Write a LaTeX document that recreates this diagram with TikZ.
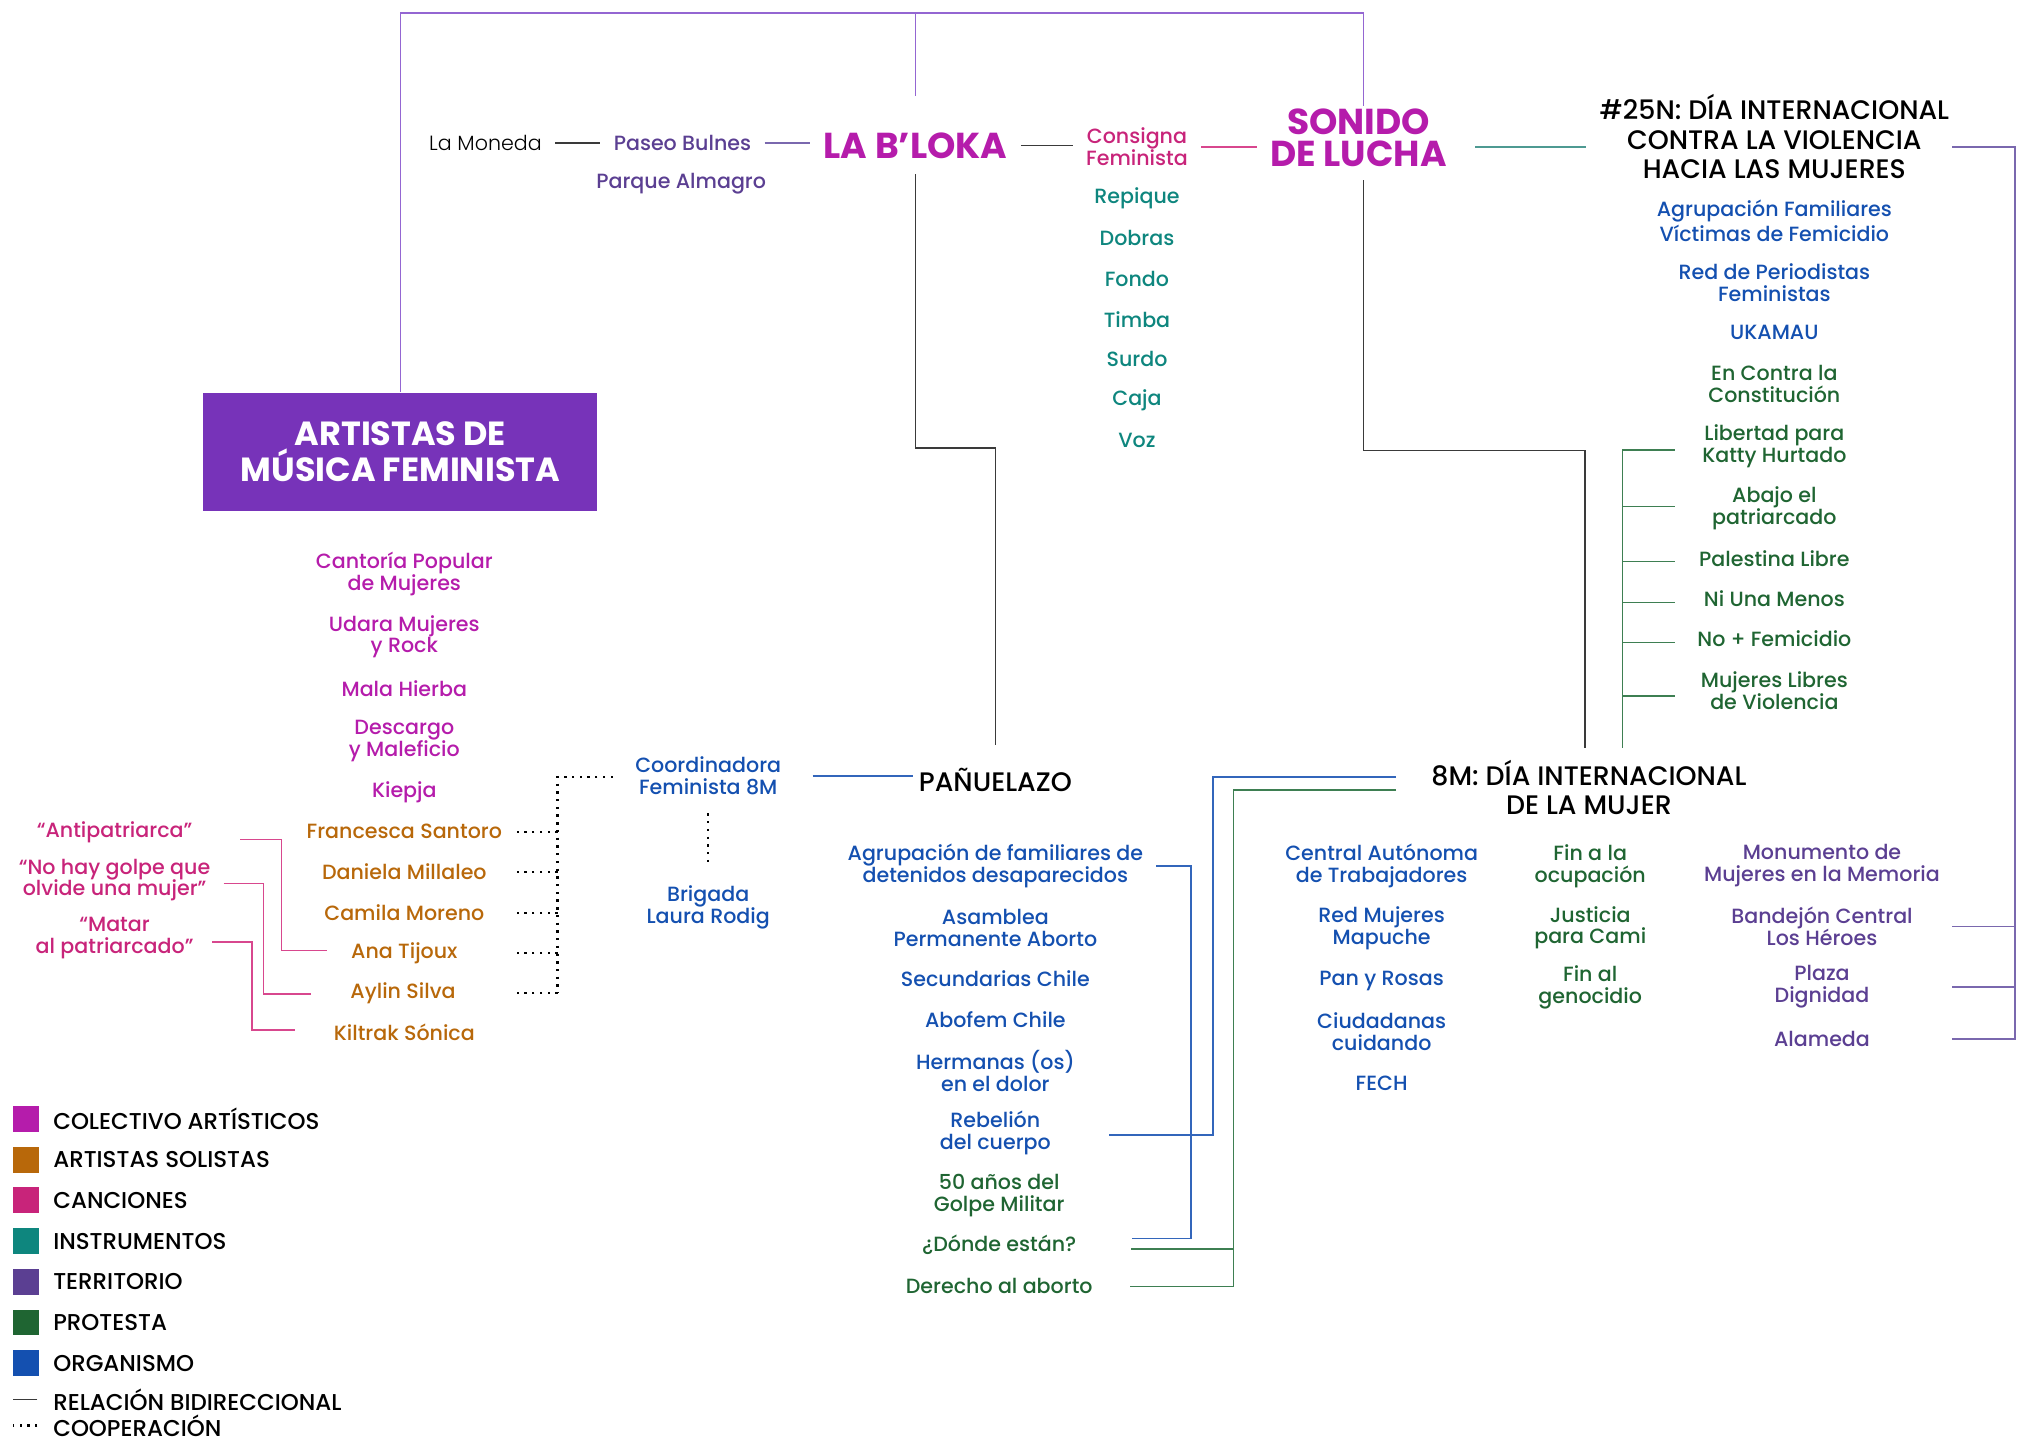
\documentclass[tikz,border=0pt]{standalone}
\usepackage{fontspec}
\setmainfont{Poppins}[UprightFont=* Medium, BoldFont=* Bold]
\newfontfamily\lightfont{Poppins Light}
\usetikzlibrary{calc,positioning}

\definecolor{colect}{HTML}{B51CAB}
\definecolor{solist}{HTML}{B8680A}
\definecolor{canc}{HTML}{C8247A}
\definecolor{instr}{HTML}{0E867E}
\definecolor{terr}{HTML}{5B3F92}
\definecolor{prot}{HTML}{1F6532}
\definecolor{org}{HTML}{1450B0}
\definecolor{boxfill}{HTML}{7733B9}
\definecolor{darkline}{HTML}{3A3A3A}
\definecolor{topline}{HTML}{9466D2}
\definecolor{terrline}{HTML}{7A68AE}
\definecolor{protline}{HTML}{3E7F52}
\definecolor{instrline}{HTML}{4E9A92}
\definecolor{orgline}{HTML}{3366BB}
\definecolor{cancline}{HTML}{D8478E}

\newcommand\itemfont{\fontsize{8}{8.5}\selectfont}
\newcommand\headfont{\fontsize{10.4}{11.5}\selectfont}
\newcommand\bigfont{\fontsize{14}{12.4}\selectfont\bfseries}
\newcommand\legfont{\fontsize{8.9}{9}\selectfont}

\begin{document}
\begin{tikzpicture}[x=0.5pt,y=-0.5pt,font=\itemfont]
  \tikzset{
    item/.style={align=center, inner xsep=5pt, inner ysep=1pt},
    colectivo/.style={item, text=colect},
    solista/.style={item, text=solist},
    cancion/.style={item, text=canc},
    instrumento/.style={item, text=instr},
    territorio/.style={item, text=terr},
    protesta/.style={item, text=prot},
    organismo/.style={item, text=org},
    head/.style={item, font=\headfont, text=black},
    big/.style={item, font=\bigfont, text=colect},
    box/.style={fill=boxfill, text=white, align=center, font=\fontsize{13}{14}\selectfont\bfseries,
      minimum width=153pt, minimum height=46pt, inner sep=0pt},
    legbox/.style={minimum size=10pt, inner sep=0pt},
    legtext/.style={font=\legfont, anchor=west, inner sep=0pt},
    rel/.style={draw=darkline, line width=0.6pt},
    topl/.style={draw=topline, line width=0.6pt},
    terrl/.style={draw=terrline, line width=0.6pt},
    protl/.style={draw=protline, line width=0.6pt},
    instrl/.style={draw=instrline, line width=0.6pt},
    orgl/.style={draw=orgline, line width=0.6pt},
    cancl/.style={draw=cancline, line width=0.6pt},
    coop/.style={draw=black, line width=0.9pt, dash pattern=on 0.9pt off 2.1pt}
  }
  \useasboundingbox (0,0) rectangle (1568,1120);

  % top row
  \node[item, font=\itemfont\lightfont] (moneda) at (377,111) {La Moneda};
  \node[territorio] (bulnes) at (530,111) {Paseo Bulnes};
  \node[territorio] (almagro) at (529,143) {Parque Almagro};
  \node[big] (bloka) at (711,113) {LA B’LOKA};
  \node[cancion] (consigna) at (883,114) {Consigna\\Feminista};
  \node[big] (sonido) at (1055,107) {SONIDO\\DE LUCHA};
  \node[head] (n25) at (1378,106) {\#25N: DÍA INTERNACIONAL\\CONTRA LA VIOLENCIA\\HACIA LAS MUJERES};
  \node[box] (artistas) at (311,351) {ARTISTAS DE\\MÚSICA FEMINISTA};

  % instrumentos
  \node[instrumento] (repique) at (883,154) {Repique};
  \node[instrumento] (dobras) at (883,185) {Dobras};
  \node[instrumento] (fondo) at (883,217) {Fondo};
  \node[instrumento] (timba) at (883,248) {Timba};
  \node[instrumento] (surdo) at (883,279) {Surdo};
  \node[instrumento] (caja) at (883,311) {Caja};
  \node[instrumento] (voz) at (883,342) {Voz};

  % 25N
  \node[organismo] (agrupfem) at (1378,171.5) {Agrupación Familiares\\Víctimas de Femicidio};
  \node[organismo] (periodistas) at (1378,219.5) {Red de Periodistas\\Feministas};
  \node[organismo] (ukamau) at (1378,258) {UKAMAU};
  \node[protesta] (constitucion) at (1378,298) {En Contra la\\Constitución};
  \node[protesta] (libertad) at (1378,346.5) {Libertad para\\Katty Hurtado};
  \node[protesta] (abajo) at (1378,394.5) {Abajo el\\patriarcado};
  \node[protesta] (palestina) at (1378,434) {Palestina Libre};
  \node[protesta] (niuna) at (1378,465) {Ni Una Menos};
  \node[protesta] (nofem) at (1378,496) {No + Femicidio};
  \node[protesta] (mujlib) at (1378,536.5) {Mujeres Libres\\de Violencia};

  % artistas
  \node[colectivo] (cantoria) at (314,445.5) {Cantoría Popular\\de Mujeres};
  \node[colectivo] (udara) at (314,494.5) {Udara Mujeres\\y Rock};
  \node[colectivo] (mala) at (314,535) {Mala Hierba};
  \node[colectivo] (descargo) at (314,575.5) {Descargo\\y Maleficio};
  \node[colectivo] (kiepja) at (314,615) {Kiepja};
  \node[solista] (francesca) at (314,646) {Francesca Santoro};
  \node[solista] (daniela) at (314,677) {Daniela Millaleo};
  \node[solista] (camila) at (314,709) {Camila Moreno};
  \node[solista] (ana) at (314,740) {Ana Tijoux};
  \node[solista] (aylin) at (313,771) {Aylin Silva};
  \node[solista] (kiltrak) at (314,802) {Kiltrak Sónica};

  % canciones
  \node[cancion] (antipat) at (89,646) {“Antipatriarca”};
  \node[cancion] (nohay) at (89,683.5) {“No hay golpe que\\olvide una mujer”};
  \node[cancion] (matar) at (89,728.5) {“Matar\\al patriarcado”};

  % coordinadora
  \node[organismo] (coord) at (550,602.5) {Coordinadora\\Feminista 8M};
  \node[organismo] (brigada) at (550,704.5) {Brigada\\Laura Rodig};

  % pañuelazo
  \node[head] (panuelazo) at (773,606) {PAÑUELAZO};
  \node[organismo] (agrupfam) at (773,672.5) {Agrupación de familiares de\\detenidos desaparecidos};
  \node[organismo] (asamblea) at (773,720.5) {Asamblea\\Permanente Aborto};
  \node[organismo] (secundarias) at (773,760) {Secundarias Chile};
  \node[organismo] (abofem) at (773,792) {Abofem Chile};
  \node[organismo] (hermanas) at (773,832) {Hermanas (os)\\en el dolor};
  \node[organismo] (rebelion) at (773,879.5) {Rebelión\\del cuerpo};
  \node[protesta] (golpe) at (776,928.5) {50 años del\\Golpe Militar};
  \node[protesta] (donde) at (776,967) {¿Dónde están?};
  \node[protesta] (derecho) at (776,999) {Derecho al aborto};

  % 8M
  \node[head] (m8) at (1234,611.5) {8M: DÍA INTERNACIONAL\\DE LA MUJER};
  \node[organismo] (cat) at (1073,672.5) {Central Autónoma\\de Trabajadores};
  \node[organismo] (mapuche) at (1073,721) {Red Mujeres\\Mapuche};
  \node[organismo] (panrosas) at (1073,762) {Pan y Rosas};
  \node[organismo] (ciudadanas) at (1073,801.5) {Ciudadanas\\cuidando};
  \node[organismo] (fech) at (1073,841) {FECH};
  \node[protesta] (ocupacion) at (1235,672.5) {Fin a la\\ocupación};
  \node[protesta] (cami) at (1235,720.5) {Justicia\\para Cami};
  \node[protesta] (genocidio) at (1235,766.5) {Fin al\\genocidio};
  \node[territorio] (monumento) at (1415,672.5) {Monumento de\\Mujeres en la Memoria};
  \node[territorio] (bandejon) at (1415,719.5) {Bandejón Central\\Los Héroes};
  \node[territorio] (plaza) at (1415,766.5) {Plaza\\Dignidad};
  \node[territorio] (alameda) at (1415,807) {Alameda};

  % columnas de los conectores
  \coordinate (topbar) at (0,10);
  \coordinate (elbowA) at (0,348);
  \coordinate (elbowB) at (0,350);
  \coordinate (gx) at (1260,0);
  \coordinate (rx) at (1565,0);
  \coordinate (bx) at (942,0);
  \coordinate (gx2) at (958,0);
  \coordinate (dx) at (433,0);
  \coordinate (rl) at ($(n25.east)+(-8,0)$);

  % conectores fila superior
  \draw[topl] (artistas.north) |- ([xshift=2pt]sonido.north |- topbar) -- ([xshift=2pt]sonido.north);
  \draw[topl, shorten <=13pt] (bloka.north) -- (bloka.north |- topbar);
  \draw[rel] (moneda.east) -- (moneda.east -| bulnes.west);
  \draw[terrl] (bulnes.east) -- (bulnes.east -| bloka.west);
  \draw[rel] (bloka.east) -- (bloka.east -| consigna.west);
  \draw[cancl] (consigna.east) -- (consigna.east -| sonido.west);
  \draw[instrl, shorten <=6pt] (sonido.east |- consigna.east) -- (n25.west |- consigna.east);
  \draw[rel, shorten <=5pt, shorten >=8pt] (bloka.south) -- (bloka.south |- elbowA) -| (panuelazo.north);
  \draw[rel, shorten <=4pt, shorten >=3.5pt] ([xshift=2pt]sonido.south) -- ([xshift=2pt]sonido.south |- elbowB) -| ([xshift=-1.5pt]m8.north);

  % 25N
  \draw[terrl] (rl |- consigna.east) -- (rx |- consigna.east) |- (alameda -| rl);
  \draw[terrl] (bandejon -| rl) -- (bandejon -| rx);
  \draw[terrl] (plaza -| rl) -- (plaza -| rx);
  \draw[protl, shorten >=3.5pt] ($(libertad -| gx)+(0,3)$) -- (m8.north -| gx);
  \foreach \n/\d in {libertad/3,abajo/-1,palestina/2,niuna/3,nofem/3,mujlib/4}
    \draw[protl] ($(\n -| gx)+(0,\d)$) -- ++(41,0);

  % 8M
  \draw[orgl] ($(m8.west)+(-17,-8)$) -| ($(bx |- rebelion)+(0,2)$) -- ($(rebelion.east)+(35,2)$);
  \draw[protl] ($(m8.west)+(-17,2)$) -| ($(gx2 |- derecho)$) -- ($(derecho.east)+(19,0)$);
  \draw[protl] ($(gx2 |- donde)+(0,3)$) -- ($(donde.east)+(32,3)$);
  \draw[orgl] (agrupfam.east) -- ++(27,0) |- ($(donde.east)+(33,-5)$);

  % coordinadora
  \draw[orgl, shorten <=7pt, shorten >=-3pt] (coord.east) -- (coord.east -| panuelazo.west);
  \draw[coop, shorten <=6pt, shorten >=7pt] (coord.south) -- (brigada.north);
  \draw[coop] ($(coord.west)+(-7,1)$) -| (dx |- aylin);
  \foreach \n in {francesca,daniela,camila,ana,aylin}
    \draw[coop] (dx |- \n) -- ++(-33,0);

  % canciones
  \draw[cancl] ($(antipat.east)+(27,6)$) -- ++(32,0) |- ($(ana.west)+(-8,-2)$);
  \draw[cancl] ($(nohay.east)+(0,2.5)$) -- ++(31,0) |- ($(aylin.west)+(-20,1)$);
  \draw[cancl] ($(matar.east)+(4,3)$) -- ++(31,0) |- ($(kiltrak.west)+(-20,-2)$);

  % leyenda
  \foreach \c/\t [count=\i from 0] in {colect/COLECTIVO ARTÍSTICOS,solist/ARTISTAS SOLISTAS,canc/CANCIONES,instr/INSTRUMENTOS,terr/TERRITORIO,prot/PROTESTA,org/ORGANISMO} {
    \node[legbox, fill=\c] (leg\i) at (20,{869+31.6*\i}) {};
    \node[legtext] (lab\i) at (41,{869+31.6*\i}) {\t};
  }
  \node[legtext] (labrel) at (41,1087) {RELACIÓN BIDIRECCIONAL};
  \node[legtext] (labcoop) at (41,1107) {COOPERACIÓN};
  \draw[rel] ($(labrel.west)+(-12,0)$) -- ++(-19,0);
  \draw[coop] ($(labcoop.west)+(-12,0)$) -- ++(-19,0);
\end{tikzpicture}
\end{document}
